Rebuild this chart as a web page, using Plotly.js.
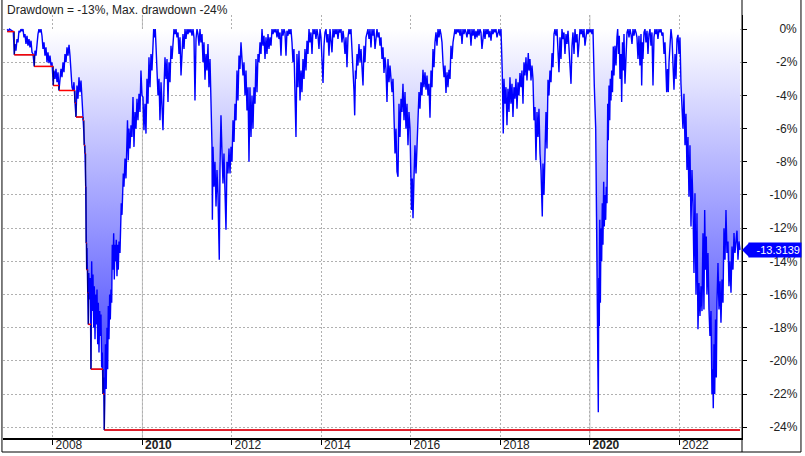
<!DOCTYPE html>
<html><head><meta charset="utf-8">
<script src="https://cdn.plot.ly/plotly-3.0.1.min.js"></script>
<style>html,body{margin:0;padding:0;background:#fff}#chart{width:805px;height:456px}</style>
</head><body><div id="chart"></div>
<script>
// Drawdown (%), decimal-year time stamps
const t2007_09 = [2006.981,2007.008,2007.030,2007.064,2007.097,2007.115,2007.138,2007.153,2007.175,2007.198,2007.220,2007.242,2007.265,2007.287,2007.309,2007.332,2007.354,2007.376,2007.399,2007.421,2007.443,2007.466,2007.488,2007.511,2007.533,2007.555,2007.584,2007.600,2007.622,2007.645,2007.667,2007.689,2007.712,2007.734,2007.756,2007.779,2007.801,2007.823,2007.846,2007.868,2007.890,2007.913,2007.935,2007.958,2007.980,2008.009,2008.025,2008.047,2008.069,2008.092,2008.114,2008.136,2008.159,2008.181,2008.203,2008.226,2008.248,2008.270,2008.293,2008.315,2008.337,2008.360,2008.382,2008.404,2008.427,2008.449,2008.471,2008.494,2008.516,2008.538,2008.561,2008.583,2008.606,2008.628,2008.650,2008.673,2008.695,2008.717,2008.733,2008.740,2008.755,2008.762,2008.778,2008.791,2008.802,2008.818,2008.833,2008.851,2008.867,2008.880,2008.896,2008.912,2008.925,2008.941,2008.957,2008.970,2008.986,2009.001,2009.015,2009.030,2009.046,2009.059,2009.075,2009.090,2009.104,2009.119,2009.135,2009.148,2009.159,2009.175,2009.191,2009.209,2009.224,2009.238,2009.253,2009.269,2009.283,2009.298,2009.314,2009.327,2009.343,2009.358,2009.372,2009.387,2009.403,2009.416,2009.432,2009.448,2009.461,2009.477,2009.499,2009.515,2009.528,2009.544,2009.559,2009.573,2009.588,2009.611,2009.633,2009.649,2009.667,2009.685,2009.700,2009.723,2009.745,2009.767,2009.790,2009.812,2009.834,2009.857,2009.879,2009.901,2009.924,2009.946];
const dd2007_09 = [0,-0.15,0,-0.05,-0.1,-0.15,-1.55,-0.9,-1.3,-0.6,-0.8,-0.1,-0.2,0,-0.1,0,-0.5,-0.3,-0.9,-0.4,-1.0,-0.6,-1.1,-0.7,-1.4,-1.5,-2.25,-1.3,-1.6,-0.7,-0.3,0,-0.2,0,-0.4,-1.2,-0.8,-1.6,-1.1,-2.0,-1.4,-2.05,-1.6,-2.2,-2.0,-3.4,-2.5,-3.0,-2.4,-3.2,-2.6,-3.7,-2.9,-2.4,-2.9,-2.0,-2.6,-1.5,-2.0,-1.1,-1.6,-0.95,-1.6,-2.5,-3.5,-3.7,-3.2,-4.45,-5.3,-3.4,-4.2,-2.9,-3.8,-3.1,-4.4,-5.5,-7.0,-7.5,-9.5,-12.9,-14.5,-13.2,-15.9,-17.8,-14.7,-16.3,-15.0,-20.5,-14.0,-17.0,-14.8,-18.0,-15.5,-18.7,-16.0,-17.8,-15.7,-19.0,-16.5,-19.5,-17.0,-18.5,-17.2,-20.4,-19.5,-22.0,-21.0,-24.17,-22.5,-19.0,-21.7,-18.0,-20.5,-16.7,-18.7,-16.0,-17.5,-15.7,-16.5,-13.0,-14.5,-12.3,-15.1,-13.0,-14.0,-12.7,-14.9,-13.0,-14.5,-12.8,-13.5,-11.7,-10.5,-11.2,-9.0,-8.7,-9.5,-7.8,-9.0,-7.5,-5.5,-7.9,-6.0,-7.2,-5.8,-6.5,-4.1,-7.1,-5.0,-6.0,-4.2,-5.5,-3.9,-5.0];

const t2010_13 = [2009.968,2009.991,2010.013,2010.035,2010.058,2010.080,2010.102,2010.125,2010.147,2010.170,2010.192,2010.214,2010.237,2010.252,2010.270,2010.288,2010.304,2010.326,2010.349,2010.371,2010.393,2010.416,2010.438,2010.460,2010.483,2010.505,2010.527,2010.550,2010.572,2010.595,2010.617,2010.639,2010.662,2010.684,2010.706,2010.729,2010.751,2010.773,2010.796,2010.818,2010.840,2010.863,2010.885,2010.907,2010.930,2010.952,2010.974,2010.997,2011.019,2011.041,2011.064,2011.086,2011.108,2011.131,2011.153,2011.175,2011.198,2011.220,2011.242,2011.265,2011.287,2011.309,2011.332,2011.354,2011.376,2011.399,2011.421,2011.443,2011.466,2011.488,2011.511,2011.533,2011.555,2011.564,2011.578,2011.600,2011.622,2011.645,2011.667,2011.689,2011.718,2011.734,2011.756,2011.779,2011.801,2011.823,2011.846,2011.868,2011.890,2011.913,2011.935,2011.958,2011.980,2012.002,2012.025,2012.047,2012.069,2012.092,2012.114,2012.136,2012.159,2012.181,2012.203,2012.226,2012.248,2012.270,2012.293,2012.315,2012.337,2012.360,2012.382,2012.404,2012.427,2012.449,2012.471,2012.494,2012.516,2012.538,2012.561,2012.583,2012.606,2012.628,2012.650,2012.673,2012.695,2012.717,2012.740,2012.762,2012.784,2012.807,2012.829,2012.851,2012.874,2012.896,2012.918,2012.941,2012.963,2012.985,2013.008,2013.030,2013.052,2013.075,2013.097,2013.119,2013.142,2013.164,2013.186,2013.209,2013.231,2013.253,2013.276,2013.298,2013.320,2013.343,2013.365,2013.387,2013.410,2013.432,2013.454,2013.477,2013.499,2013.522,2013.544,2013.566,2013.589,2013.611,2013.633,2013.656,2013.678,2013.700,2013.723,2013.745,2013.767,2013.790,2013.812,2013.834,2013.857,2013.879,2013.901,2013.924,2013.946,2013.969];
const dd2010_13 = [-2.5,-4.0,-4.1,-6.1,-4.5,-6.3,-3.0,-4.5,-1.7,-3.5,-1.5,-2.5,-0.3,0,-0.5,0,-1.0,-2.5,-4.0,-3.0,-5.5,-3.2,-4.5,-6.1,-3.5,-1.7,-3.0,-1.8,-4.4,-2.0,-3.2,-1.0,-1.8,-0.5,0,-0.3,0,-0.5,-0.2,-1.5,-0.5,-2.8,-1.0,-0.3,-1.2,0,-0.6,0,-0.3,0,-0.2,0,-0.4,0,-0.5,-4.3,-0.6,0,-0.3,-1.0,0,-0.8,-0.3,-2.0,-0.8,-3.05,-1.5,-2.5,-0.9,-3.5,-1.8,-4.3,-7.0,-11.5,-7.1,-9.5,-8.0,-10.7,-8.5,-10.0,-13.9,-8.5,-5.2,-7.5,-9.3,-7.5,-10.0,-12.1,-8.0,-8.7,-7.2,-8.7,-7.1,-8.0,-5.5,-6.8,-4.5,-5.5,-2.5,-4.3,-1.6,-2.4,-0.8,-2.0,-2.8,-2.0,-4.0,-2.5,-4.9,-3.5,-8.0,-3.5,-6.5,-4.0,-6.0,-3.5,-4.5,-1.8,-3.8,-1.5,-2.0,-0.8,-1.5,0,-1.0,-0.4,-1.8,-0.5,-1.5,-0.3,-1.2,-0.5,-1.0,0,-0.3,0,-0.2,0,-0.5,0,-0.6,-0.2,-1.6,0,-0.4,0,-0.2,-1.6,-0.1,-0.4,0,-0.3,0,-0.8,-2.0,-1.2,-4.0,-6.5,-1.5,-3.5,-1.3,-4.3,-2.5,-3.8,-1.8,-3.0,-1.2,-2.5,-0.7,-1.5,0,-0.8,-0.2,-1.5,0,-0.3,0,-0.6,0,-0.4,-1.2,0];

const t2014_17 = [2013.991,2014.013,2014.036,2014.058,2014.080,2014.103,2014.125,2014.147,2014.170,2014.192,2014.214,2014.237,2014.259,2014.281,2014.304,2014.326,2014.349,2014.371,2014.393,2014.416,2014.438,2014.460,2014.483,2014.505,2014.527,2014.550,2014.572,2014.594,2014.617,2014.639,2014.661,2014.684,2014.706,2014.728,2014.744,2014.762,2014.773,2014.796,2014.818,2014.840,2014.863,2014.885,2014.907,2014.930,2014.952,2014.974,2014.997,2015.019,2015.041,2015.064,2015.086,2015.108,2015.131,2015.153,2015.175,2015.198,2015.220,2015.242,2015.265,2015.287,2015.309,2015.332,2015.354,2015.376,2015.399,2015.421,2015.443,2015.466,2015.488,2015.511,2015.533,2015.555,2015.578,2015.600,2015.622,2015.645,2015.667,2015.689,2015.712,2015.734,2015.756,2015.779,2015.801,2015.823,2015.846,2015.868,2015.890,2015.913,2015.935,2015.957,2015.980,2015.995,2016.013,2016.031,2016.047,2016.069,2016.091,2016.114,2016.136,2016.158,2016.181,2016.203,2016.225,2016.248,2016.270,2016.292,2016.315,2016.337,2016.360,2016.382,2016.404,2016.427,2016.449,2016.471,2016.494,2016.516,2016.538,2016.561,2016.583,2016.606,2016.628,2016.650,2016.672,2016.695,2016.717,2016.740,2016.762,2016.784,2016.807,2016.829,2016.851,2016.874,2016.896,2016.918,2016.941,2016.963,2016.985,2017.008,2017.030,2017.052,2017.075,2017.097,2017.119,2017.142,2017.164,2017.186,2017.209,2017.231,2017.253,2017.276,2017.298,2017.320,2017.343,2017.365,2017.387,2017.410,2017.432,2017.454,2017.477,2017.499,2017.521,2017.544,2017.566,2017.588,2017.611,2017.633,2017.656,2017.678,2017.700,2017.723,2017.745,2017.767,2017.790,2017.812,2017.834,2017.857,2017.879,2017.901,2017.924,2017.946,2017.968];
const dd2014_17 = [-0.5,-1.8,-3.25,-1.0,-0.2,0,-0.8,-0.3,-1.6,0,-0.8,-1.4,0,-0.5,0,-0.3,0,-0.6,0,-0.2,0,-0.8,-0.1,-0.6,-1.5,-0.5,-2.3,-0.5,0,-0.3,0,-1.05,-2.5,-3.7,-5.2,-2.5,-3.0,-1.5,-2.2,-0.9,-2.0,-1.2,-2.5,-3.4,-1.0,-2.0,-0.5,-0.2,0,-0.6,0,-1.1,0,-0.4,0,-1.2,-0.3,0,-0.5,-0.2,-1.0,-0.5,-1.8,-1.1,-2.65,-1.7,-2.4,-4.4,-1.8,-3.2,-2.2,-3.4,-3.8,-3.0,-5.9,-7.5,-6.0,-8.6,-8.9,-4.5,-6.5,-4.2,-5.0,-3.3,-5.5,-3.8,-6.0,-4.5,-7.0,-5.0,-6.0,-8.1,-10.9,-9.0,-11.4,-9.0,-7.0,-8.7,-6.5,-5.5,-3.8,-4.8,-3.2,-4.0,-2.45,-3.5,-2.6,-3.65,-2.8,-4.0,-3.3,-5.35,-2.5,-3.5,-1.2,-2.3,-0.8,-0.2,-1.0,0,-0.5,0,-0.3,-0.8,-2.0,-2.9,-2.2,-3.85,-2.6,-3.5,-2.45,-3.0,-1.0,-1.8,-0.8,-0.2,0,-0.3,0,-0.2,0,-0.4,0,-0.9,0,-0.3,0,-0.2,-0.5,0,-0.3,0,-1.0,0,-0.4,0,-0.6,-0.1,-0.5,0,-0.4,0,-0.2,-1.2,-0.3,0,-0.6,0,-0.3,0,-0.5,-0.1,-0.7,0,-0.3,0,-0.2,0,-0.5,-0.1,0];

const t2018_23 = [2017.991,2018.013,2018.042,2018.064,2018.080,2018.102,2018.125,2018.147,2018.169,2018.192,2018.214,2018.236,2018.259,2018.281,2018.303,2018.326,2018.348,2018.371,2018.393,2018.415,2018.438,2018.460,2018.482,2018.505,2018.527,2018.549,2018.572,2018.594,2018.623,2018.639,2018.661,2018.684,2018.706,2018.728,2018.751,2018.773,2018.795,2018.818,2018.840,2018.862,2018.885,2018.907,2018.936,2018.952,2018.974,2018.997,2019.019,2019.041,2019.064,2019.086,2019.108,2019.131,2019.153,2019.175,2019.198,2019.220,2019.242,2019.265,2019.287,2019.309,2019.332,2019.354,2019.376,2019.399,2019.421,2019.443,2019.466,2019.488,2019.511,2019.533,2019.555,2019.578,2019.600,2019.622,2019.645,2019.667,2019.689,2019.712,2019.734,2019.756,2019.779,2019.801,2019.823,2019.846,2019.868,2019.890,2019.913,2019.935,2019.957,2019.980,2020.002,2020.024,2020.047,2020.069,2020.098,2020.130,2020.148,2020.163,2020.177,2020.188,2020.199,2020.210,2020.221,2020.234,2020.248,2020.263,2020.277,2020.292,2020.308,2020.322,2020.337,2020.353,2020.366,2020.382,2020.398,2020.411,2020.427,2020.443,2020.456,2020.471,2020.487,2020.505,2020.523,2020.538,2020.561,2020.583,2020.605,2020.621,2020.639,2020.657,2020.672,2020.695,2020.710,2020.728,2020.746,2020.762,2020.784,2020.807,2020.829,2020.851,2020.874,2020.896,2020.918,2020.941,2020.963,2020.985,2021.008,2021.030,2021.052,2021.075,2021.097,2021.119,2021.142,2021.157,2021.175,2021.186,2021.209,2021.231,2021.253,2021.276,2021.298,2021.320,2021.343,2021.365,2021.387,2021.410,2021.432,2021.454,2021.477,2021.499,2021.521,2021.544,2021.566,2021.588,2021.611,2021.633,2021.656,2021.678,2021.700,2021.716,2021.734,2021.752,2021.768,2021.790,2021.812,2021.835,2021.857,2021.879,2021.902,2021.924,2021.946,2021.969,2021.991,2022.013,2022.035,2022.058,2022.080,2022.102,2022.125,2022.147,2022.169,2022.192,2022.214,2022.236,2022.259,2022.281,2022.303,2022.326,2022.348,2022.371,2022.393,2022.415,2022.438,2022.460,2022.482,2022.505,2022.527,2022.549,2022.565,2022.583,2022.601,2022.616,2022.639,2022.661,2022.683,2022.706,2022.728,2022.744,2022.757,2022.773,2022.789,2022.807,2022.825,2022.840,2022.862,2022.885,2022.907,2022.929,2022.952,2022.974,2022.996,2023.019,2023.041,2023.063,2023.086,2023.108,2023.130,2023.153,2023.175,2023.197,2023.220,2023.242,2023.265,2023.287,2023.309,2023.332,2023.354];
const dd2018_23 = [-0.4,0,-2.6,-6.3,-3.0,-4.5,-3.5,-5.8,-3.6,-5.0,-2.9,-4.5,-3.3,-5.3,-3.5,-4.2,-3.0,-4.8,-3.2,-4.0,-2.65,-3.5,-2.5,-4.5,-2.0,-2.8,-1.7,-3.1,-1.45,-2.5,-1.8,-3.1,-2.2,-3.0,-5.5,-4.7,-7.9,-5.0,-6.5,-4.8,-7.5,-8.5,-11.3,-8.1,-10.0,-7.0,-5.0,-7.2,-3.05,-4.0,-2.5,-3.2,-1.45,-2.3,-0.3,0,-0.4,0,-1.2,-2.6,-0.5,-1.8,0,-0.6,-0.2,-1.5,-0.3,-0.9,-0.1,-1.3,-2.2,-3.3,-1.0,-0.2,-1.5,0,-0.8,-0.3,-1.7,-0.4,0,-0.3,0,-0.5,0,-1.0,-0.2,0,-0.3,0,-0.2,0,-0.3,0,-3.4,-6.0,-11.3,-15.1,-22.4,-23.1,-15.0,-17.9,-11.5,-16.5,-12.0,-14.0,-10.5,-13.0,-9.2,-11.9,-10.0,-11.5,-9.5,-10.5,-4.5,-6.7,-3.4,-5.5,-3.0,-4.3,-2.5,-3.8,-1.05,-2.8,-1.0,-2.2,-0.5,0,-1.5,-0.4,-3.0,-1.5,-4.4,-0.8,-2.5,-0.3,-3.3,-1.0,-0.2,0,-0.5,0,-0.3,-0.9,0,-0.4,0,-0.2,-0.5,-1.8,-0.4,-2.2,-0.3,-3.4,-0.8,-1.8,-0.2,0,-0.8,-0.1,-1.5,-0.3,0,-1.0,-0.2,-3.4,-0.5,0,-0.3,0,-0.6,0,-0.2,0,-0.4,-0.2,-1.5,-0.8,-2.5,-3.8,-2.4,-3.8,-2.0,-1.0,0,-0.6,-2.0,-3.65,-1.5,-3.0,-0.6,-0.35,-1.5,-0.5,-3.3,-4.5,-6.0,-3.9,-7.0,-5.1,-8.5,-6.5,-10.1,-7.0,-11.9,-8.5,-10.5,-14.7,-9.9,-16.0,-11.1,-18.1,-15.3,-17.3,-15.5,-17.0,-12.3,-16.9,-10.9,-14.5,-12.5,-16.0,-13.5,-16.9,-18.5,-17.0,-22.0,-20.5,-22.85,-19.0,-22.0,-17.5,-21.0,-16.5,-14.1,-16.9,-15.2,-17.7,-15.1,-16.5,-12.0,-13.9,-10.9,-13.5,-12.8,-15.5,-14.0,-15.9,-13.1,-14.5,-12.3,-13.5,-12.6,-12.15,-13.9,-12.8,-13.3139];

// Running maximum drawdown (%) steps
const mddYear = [2006.981,2007.138,2007.584,2008.009,2008.136,2008.494,2008.516,2008.673,2008.695,2008.717,2008.733,2008.740,2008.755,2008.778,2008.791,2008.851,2009.119,2009.148,2023.354];
const mddPct  = [-0.15,-1.55,-2.25,-3.4,-3.7,-4.45,-5.3,-5.5,-7.0,-7.5,-9.5,-12.9,-14.5,-15.9,-17.8,-20.5,-22.0,-24.17,-24.17];

const xTickVals = [2008,2010,2012,2014,2016,2018,2020,2022];
const xTickText = ['2008','<b>2010</b>','2012','2014','2016','2018','<b>2020</b>','2022'];
const yTickVals = [0,-2,-4,-6,-8,-10,-12,-14,-16,-18,-20,-22,-24];
const yTickText = ['\u2007\u20080%','\u2007-2%','\u2007-4%','\u2007-6%','\u2007-8%','-10%','-12%','-14%','-16%','-18%','-20%','-22%','-24%'];
const decadeLines = [2010, 2020];
const titleText = 'Drawdown = -13%, Max. drawdown -24%';

const t = [].concat(t2007_09, t2010_13, t2014_17, t2018_23);
const dd = [].concat(dd2007_09, dd2010_13, dd2014_17, dd2018_23);
const lastVal = dd[dd.length - 1];

// red horizontal parts of the max drawdown steps
const redX = [], redY = [];
for (let i = 0; i < mddYear.length - 1; i++) {
  redX.push(mddYear[i], mddYear[i + 1], null);
  redY.push(mddPct[i], mddPct[i], null);
}

const F = 'Liberation Sans, Arial, sans-serif';
const traces = [
  {x: t, y: dd, type: 'scatter', mode: 'lines', line: {color: '#0000ff', width: 1.4},
   fill: 'tozeroy',
   fillgradient: {type: 'vertical', start: -24.2, stop: 0,
     colorscale: [[0, 'rgb(40,40,255)'], [1, 'rgb(255,255,255)']]},
   hoverinfo: 'skip'},
  {x: mddYear, y: mddPct, type: 'scatter', mode: 'lines',
   line: {color: '#000060', width: 1, shape: 'hv'}, hoverinfo: 'skip'},
  {x: redX, y: redY, type: 'scatter', mode: 'lines', connectgaps: false,
   line: {color: '#ff0000', width: 1.5}, hoverinfo: 'skip'}
];

const shapes = decadeLines.map(v => ({type: 'line', xref: 'x', yref: 'paper', x0: v, x1: v, y0: 0, y1: 1,
  line: {color: '#c0c0c0', width: 1}, layer: 'between'}));
// frame lines
shapes.push({type: 'line', xref: 'paper', yref: 'paper', x0: 1, x1: 1, y0: -0.0331, y1: 1.04, line: {color: '#000', width: 1}});
shapes.push({type: 'line', xref: 'paper', yref: 'paper', x0: -0.0014, x1: -0.0014, y0: -0.0331, y1: 1.04, line: {color: '#000', width: 1}});
shapes.push({type: 'line', xref: 'paper', yref: 'paper', x0: 1.0798, x1: 1.0798, y0: -0.0331, y1: 1.04, line: {color: '#000', width: 1}});
shapes.push({type: 'line', xref: 'paper', yref: 'paper', x0: -0.0014, x1: 1.0798, y0: -0.0331, y1: -0.0331, line: {color: '#000', width: 1}});
// callout pointer
shapes.push({type: 'path', xref: 'paper', xsizemode: 'pixel', xanchor: 1, yref: 'y', ysizemode: 'pixel', yanchor: lastVal,
  path: 'M0,0 L7,7 L7,-7 Z', fillcolor: '#0000ff', line: {width: 0}, layer: 'above'});

const layout = {
  width: 805, height: 456,
  margin: {l: 3, r: 63, t: 15, b: 18, pad: 0},
  paper_bgcolor: '#ffffff', plot_bgcolor: '#ffffff',
  showlegend: false, hovermode: false,
  title: {text: titleText, xref: 'container', x: 7 / 805, xanchor: 'left',
    yref: 'container', y: 1 - 9.5 / 456, yanchor: 'middle',
    font: {family: F, size: 12, color: '#222'}},
  xaxis: {range: [2006.885, 2023.399], tickmode: 'array', tickvals: xTickVals, ticktext: xTickText,
    ticks: 'outside', ticklen: 5, tickwidth: 1, tickcolor: '#000',
    showline: true, linecolor: '#000', linewidth: 2,
    showgrid: true, gridcolor: '#b0b0b0', gridwidth: 1, griddash: '2px,2px', zeroline: false,
    tickfont: {family: F, size: 12, color: '#222'}, ticklabelshift: 16, ticklabelstandoff: -10,
    fixedrange: true},
  yaxis: {range: [-24.65, 0.85], side: 'right', tickmode: 'array', tickvals: yTickVals, ticktext: yTickText,
    ticks: 'outside', ticklen: 4, tickwidth: 1, tickcolor: '#000',
    showline: true, linecolor: '#000', linewidth: 1,
    showgrid: true, gridcolor: '#b0b0b0', gridwidth: 1, griddash: '2px,2px', zeroline: false,
    tickfont: {family: F, size: 12, color: '#222'}, ticklabelstandoff: 20,
    fixedrange: true},
  shapes: shapes,
  annotations: [{xref: 'paper', x: 1, xanchor: 'left', xshift: 6, yref: 'y', y: lastVal, yanchor: 'middle',
    text: lastVal.toFixed(4), showarrow: false, bgcolor: '#0000ff', borderpad: 1, width: 50, height: 12, align: 'right',
    font: {family: F, size: 11, color: '#ffffff'}}]
};

Plotly.newPlot('chart', traces, layout, {displayModeBar: false, staticPlot: true});
</script></body></html>
